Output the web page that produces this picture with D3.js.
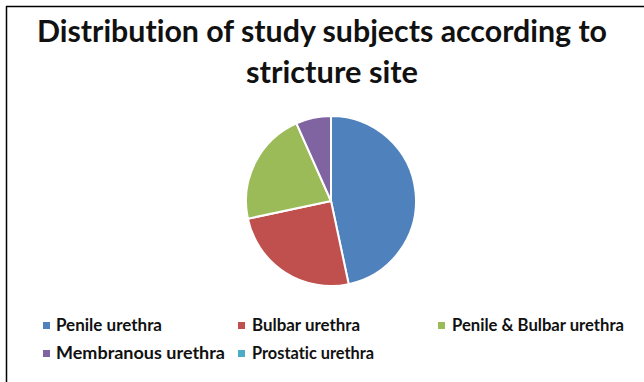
<!DOCTYPE html>
<html>
<head>
<meta charset="utf-8">
<script src="https://cdn.jsdelivr.net/npm/d3@7"></script>
<style>
  html, body { margin: 0; padding: 0; background: #fff; }
  svg { display: block; }
  text { font-family: Lato, "Open Sans", sans-serif; font-weight: 700; fill: #111;
         font-variant-ligatures: none; font-feature-settings: "liga" 0; }
</style>
</head>
<body>
<svg id="chart" width="644" height="382"></svg>
<script>
// Stricture site categories and number of subjects in each
const sites = ["Penile urethra", "Bulbar urethra", "Penile & Bulbar urethra", "Membranous urethra", "Prostatic urethra"];
const subjects = [28, 15, 13, 4, 0];
const colors = ["#4F81BD", "#C0504D", "#9BBB59", "#8064A2", "#4BACC6"];
const titleLines = ["Distribution of study subjects according to", "stricture site"];

const svg = d3.select("#chart");
const W = 644, H = 382;

// Frame lines (top and left)
svg.append("line").attr("x1", 6).attr("y1", 6.5).attr("x2", W).attr("y2", 6.5)
  .attr("stroke", "#000").attr("stroke-width", 1.5);
svg.append("line").attr("x1", 6.5).attr("y1", 6).attr("x2", 6.5).attr("y2", H)
  .attr("stroke", "#000").attr("stroke-width", 1.5);

// Title
const titleSpec = [{x: 322, y: 42, len: 570}, {x: 332, y: 83, len: 172}];
svg.selectAll("text.title").data(titleLines).join("text")
  .attr("class", "title")
  .attr("x", (d, i) => titleSpec[i].x)
  .attr("y", (d, i) => titleSpec[i].y)
  .attr("text-anchor", "middle")
  .attr("font-size", 31)
  .attr("textLength", (d, i) => titleSpec[i].len)
  .attr("lengthAdjust", "spacingAndGlyphs")
  .text(d => d);

// Pie
const cx = 331, cy = 201, r = 85;
const pie = d3.pie().sort(null).value(d => d.v);
const arc = d3.arc().innerRadius(0).outerRadius(r);
const data = sites.map((s, i) => ({s, v: subjects[i], c: colors[i]}));

svg.append("g").attr("transform", `translate(${cx},${cy})`)
  .selectAll("path").data(pie(data)).join("path")
  .attr("d", arc)
  .attr("fill", d => d.data.c)
  .attr("stroke", "#fff")
  .attr("stroke-width", 2)
  .attr("stroke-linejoin", "round");

// Legend
const legendPos = [
  {mx: 43, tx: 56, y: 331, len: 106},
  {mx: 238, tx: 252, y: 331, len: 108},
  {mx: 438, tx: 452, y: 331, len: 172},
  {mx: 43, tx: 56, y: 359, len: 169},
  {mx: 238, tx: 252, y: 359, len: 122}
];
const lg = svg.append("g");
const items = lg.selectAll("g").data(data).join("g");
items.append("rect")
  .attr("x", (d, i) => legendPos[i].mx)
  .attr("y", (d, i) => legendPos[i].y - 9)
  .attr("width", 7).attr("height", 7)
  .attr("fill", d => d.c);
items.append("text")
  .attr("x", (d, i) => legendPos[i].tx)
  .attr("y", (d, i) => legendPos[i].y)
  .attr("font-size", 16.5)
  .attr("textLength", (d, i) => legendPos[i].len)
  .attr("lengthAdjust", "spacingAndGlyphs")
  .text(d => d.s);
</script>
</body>
</html>
